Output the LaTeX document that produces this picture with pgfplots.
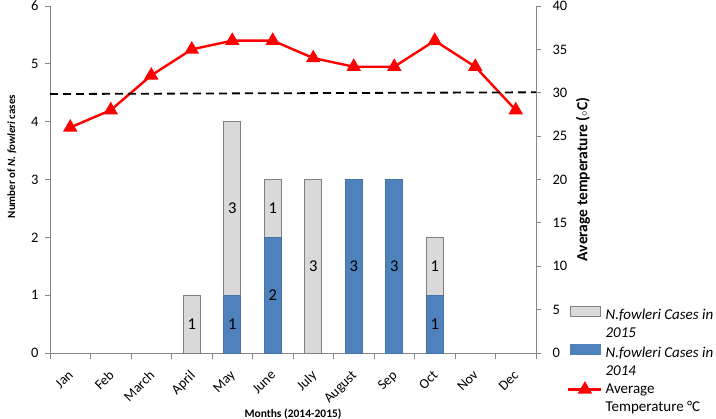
\documentclass[border=0pt]{standalone}
\usepackage{fontspec}
\setmainfont{Carlito}
\usepackage{pgfplots}
\pgfplotsset{compat=1.18}
\definecolor{barblue}{RGB}{79,129,189}
\definecolor{barblueedge}{RGB}{70,115,170}
\definecolor{bargray}{RGB}{217,217,217}
\definecolor{bargrayedge}{RGB}{128,128,128}
\definecolor{axgray}{RGB}{134,134,134}
\begin{document}
\begin{tikzpicture}[font=\fontsize{15}{18}\selectfont]
\pgfplotsset{
  base/.style={scale only axis, width=486pt, height=347pt, xmin=-0.5, xmax=11.5,
    /pgf/number format/assume math mode=true,
    tick label style={font=\fontsize{14.5}{17}\selectfont},
    axis line style={axgray, line width=0.8pt},
    tick style={axgray, line width=0.8pt},
    tick align=outside, major tick length=5pt, minor tick length=6pt,
    clip=false},
}
\begin{axis}[base, name=ax, ymin=0, ymax=6, ytick={0,...,6},
  axis x line*=bottom, axis y line*=left,
  xtick={0,...,11},
  xticklabels={Jan,Feb,March,April,May,June,July,August,Sep,Oct,Nov,Dec},
  xticklabel style={rotate=45, anchor=north east, inner sep=0pt, xshift=-10pt, yshift=-6pt, font=\fontsize{14}{16}\selectfont},
  major x tick style={draw=none},
  minor xtick={-0.5,0.5,...,11.5},
  yticklabel style={xshift=-3pt},
  xlabel={\bfseries Months (2014-2015)},
  every axis x label/.style={at={(rel axis cs:0.5,0)}, yshift=-61pt, anchor=center, font=\fontsize{11.5}{13}\selectfont},
  ylabel={\bfseries Number of \textit{N. fowleri} cases},
  every axis y label/.style={at={(rel axis cs:0,0.566)}, xshift=-38pt, rotate=90, anchor=center, font=\fontsize{11}{13}\selectfont},
]
% total cases (2014 + 2015), 2015 part visible above the 2014 part
\addplot[ybar, bar width=0.42, bar shift=0pt, fill=bargray, draw=bargrayedge, line width=0.8pt]
  coordinates {(3,1) (4,4) (5,3) (6,3) (9,2)};
% 2014 cases
\addplot[ybar, bar width=0.42, bar shift=0pt, fill=barblue, draw=barblueedge, line width=0.8pt]
  coordinates {(4,1) (5,2) (7,3) (8,3) (9,1)};
% value labels inside bars
\addplot[only marks, mark=none, point meta=explicit symbolic,
  nodes near coords, nodes near coords align={center},
  every node near coord/.append style={anchor=center, font=\fontsize{16.5}{18}\selectfont, text=black}]
  table[meta=l] {
x y l
3 0.5 1
4 0.5 1
4 2.5 3
5 1.0 2
5 2.5 1
6 1.5 3
7 1.5 3
8 1.5 3
9 0.5 1
9 1.5 1
};
\end{axis}
\begin{axis}[base, ymin=0, ymax=40, ytick={0,5,...,40},
  axis y line*=right, axis x line=none,
  yticklabel style={xshift=8pt},
  ylabel={\bfseries Average temperature (${\scriptstyle\circ}$C)},
  every axis y label/.style={at={(rel axis cs:1,0.5)}, xshift=47pt, rotate=90, anchor=center, font=\fontsize{15.5}{18}\selectfont},
  legend style={at={(rel axis cs:1.0638,0.1354)}, anchor=north west, draw=none, fill=none,
    inner sep=0pt, row sep=3pt, column sep=3pt,
    font=\fontsize{15}{18}\selectfont,
    nodes={inner sep=0pt, text height=11pt, text depth=4pt},
    cells={anchor=west}},
]
\addlegendimage{legend image code/.code={\draw[fill=bargray, draw=bargrayedge, line width=0.8pt] (0pt,-1pt) rectangle (30pt,9pt);}}
\addlegendentry{\textit{N.fowleri Cases in}}
\addlegendimage{empty legend}
\addlegendentry{\textit{2015}}
\addlegendimage{legend image code/.code={\draw[fill=barblue, draw=barblue, line width=0.8pt] (0pt,-1pt) rectangle (30pt,9pt);}}
\addlegendentry{\textit{N.fowleri Cases in}}
\addlegendimage{empty legend}
\addlegendentry{\textit{2014}}
\addplot[red, line width=2.4pt, mark=triangle*, mark size=6pt, mark options={solid},
  legend image code/.code={\draw[red, line width=2.4pt, mark=triangle*, mark size=6pt, mark repeat=2, mark phase=2] plot coordinates {(-2pt,0pt) (14.5pt,0pt) (31pt,0pt)};}]
  coordinates {(0,26) (1,28) (2,32) (3,35) (4,36) (5,36) (6,34) (7,33) (8,33) (9,36) (10,33) (11,28)};
\addlegendentry{Average}
\addlegendimage{empty legend}
\addlegendentry{Temperature °C}
\addplot[black, dashed, line width=1.8pt, dash pattern=on 8pt off 5pt, forget plot]
  coordinates {(-0.5,29.85) (11.5,30.05)};
\end{axis}
\pgfresetboundingbox
\path[use as bounding box] (ax.south west) ++(-50pt,-66pt) rectangle ++(716pt,419pt);
\end{tikzpicture}
\end{document}
